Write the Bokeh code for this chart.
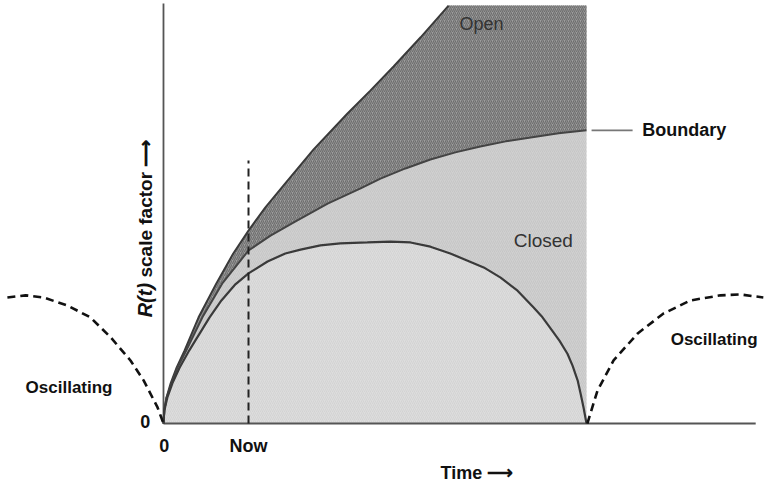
import math
from bokeh.plotting import figure
from bokeh.models import Range1d
from bokeh.core.properties import value
from bokeh.embed import file_html
from bokeh.resources import INLINE

# ---- data (time t, scale factor R) ----
open_t = [0, 0.02, 0.07, 0.17, 0.31, 0.50, 0.83, 1.25, 1.65, 2.01, 2.41, 2.84, 3.55, 4.35, 4.89, 5.44, 6.08, 6.74]
open_r = [0, 0.31, 0.61, 0.95, 1.32, 1.73, 2.51, 3.31, 4.02, 4.56, 5.11, 5.63, 6.48, 7.33, 7.87, 8.44, 9.13, 9.88]

bound_t = [0, 0.02, 0.07, 0.19, 0.33, 0.54, 0.92, 1.39, 2.01, 2.53, 3.07, 3.88, 4.66, 5.13, 5.72,
           6.31, 6.90, 7.49, 8.09, 8.68, 9.34, 10.0]
bound_r = [0, 0.31, 0.61, 0.95, 1.32, 1.73, 2.51, 3.31, 4.09, 4.44, 4.75, 5.20, 5.56, 5.79, 6.03,
           6.24, 6.41, 6.55, 6.67, 6.76, 6.86, 6.93]

closed_t = [0, 0.02, 0.09, 0.21, 0.38, 0.61, 1.09, 1.37, 1.70, 2.01, 2.46, 2.88, 3.24, 3.71, 4.18,
            4.82, 5.37, 5.84, 6.31, 6.78, 7.19, 7.57, 7.97, 8.37, 8.75, 8.96, 9.15, 9.36, 9.55,
            9.67, 9.79, 9.86, 9.93, 10.0]
closed_r = [0, 0.31, 0.61, 0.95, 1.32, 1.73, 2.51, 2.91, 3.29, 3.55, 3.83, 4.02, 4.11, 4.21, 4.26,
            4.28, 4.30, 4.28, 4.18, 4.02, 3.85, 3.69, 3.45, 3.14, 2.74, 2.51, 2.25, 1.96, 1.65,
            1.37, 1.02, 0.71, 0.38, 0]

osc_left_t = [-3.69, -3.26, -2.84, -2.27, -1.73, -1.25, -0.78, -0.47, -0.14, 0]
osc_left_r = [2.98, 3.03, 2.98, 2.79, 2.51, 2.04, 1.49, 1.02, 0.38, 0]

osc_right_t = [10.02, 10.26, 10.64, 11.21, 11.82, 12.46, 13.17, 13.64, 14.18]
osc_right_r = [0, 0.78, 1.49, 2.13, 2.60, 2.91, 3.03, 3.05, 2.98]

region_top = 9.88
region_right = 10.0
now_t = 2.01
now_top = 6.22
axis_t_end = 14.0
axis_r_end = 9.93

FONT = value("Liberation Sans")

p = figure(width=764, height=486, output_backend="svg", toolbar_location=None,
           x_range=Range1d(-3.853, 14.208), y_range=Range1d(-1.489, 10.0),
           min_border=0, outline_line_color=None, background_fill_color="white")
p.axis.visible = False
p.grid.visible = False

# light region under the boundary
p.patch(bound_t + [region_right], bound_r + [0], fill_color="#d0d0d0", line_color=None,
        hatch_pattern="right_diagonal_line", hatch_color="#c2c2c2", hatch_scale=4, hatch_weight=0.7)
# inside the closed curve, slightly lighter
p.patch(closed_t, closed_r, fill_color="#dddddd", line_color=None,
        hatch_pattern="right_diagonal_line", hatch_color="#cfcfcf", hatch_scale=4, hatch_weight=0.7)
# dark "open" region between open curve and boundary
open_poly_t = open_t + [region_right, region_right] + bound_t[::-1]
open_poly_r = open_r + [region_top, bound_r[-1]] + bound_r[::-1]
p.patch(open_poly_t, open_poly_r, fill_color="#9e9e9e", line_color=None,
        hatch_pattern="right_diagonal_line", hatch_color="#6e6e6e", hatch_scale=4, hatch_weight=1.2)

# axes lines
p.segment(x0=[0, 0], y0=[0, 0], x1=[0, axis_t_end], y1=[axis_r_end, 0], line_color="#555555", line_width=1.8)

# curves
p.line(open_t, open_r, line_color="#3a3a3a", line_width=2)
p.line(bound_t, bound_r, line_color="#444444", line_width=2)
p.line(closed_t, closed_r, line_color="#3a3a3a", line_width=2.2)

# Now dashed line
p.line([now_t, now_t], [0, now_top], line_color="#222222", line_width=2, line_dash="8 5")

# oscillating dashed arcs
p.line(osc_left_t, osc_left_r, line_color="#111111", line_width=2.6, line_dash="8 5")
p.line(osc_right_t, osc_right_r, line_color="#111111", line_width=2.6, line_dash="8 5")

# boundary leader
p.line([10.12, 11.09], [6.93, 6.93], line_color="#777777", line_width=1.6)


def label(x, y, s, size="17px", style="bold", align="left", color="#111111", angle=0.0):
    p.text(x=[x], y=[y], text=[s], text_font=FONT, text_font_size=size,
           text_font_style=style, text_align=align, text_baseline="middle",
           text_color=color, angle=angle)


label(7.52, 9.45, "Open", size="18px", style="normal", align="center", color="#333333")
label(8.98, 4.33, "Closed", size="19px", style="normal", align="center", color="#333333")
label(11.32, 6.93, "Boundary", size="18px")
label(-3.26, 0.85, "Oscillating", size="17px")
label(11.99, 1.99, "Oscillating", size="17px")
label(-0.43, 0.05, "0", size="18px", align="center")
label(0.02, -0.52, "0", size="18px", align="center")
label(2.01, -0.52, "Now", size="18px", align="center")
label(6.55, -1.16, "Time \u27f6", size="18px")

label(-0.43, 2.51, "R(t)", size="20px", style="bold italic", angle=math.pi / 2)
label(-0.43, 3.45, "scale factor \u27f6", size="19px", angle=math.pi / 2)

open("out.html", "w").write(file_html(p, INLINE))
